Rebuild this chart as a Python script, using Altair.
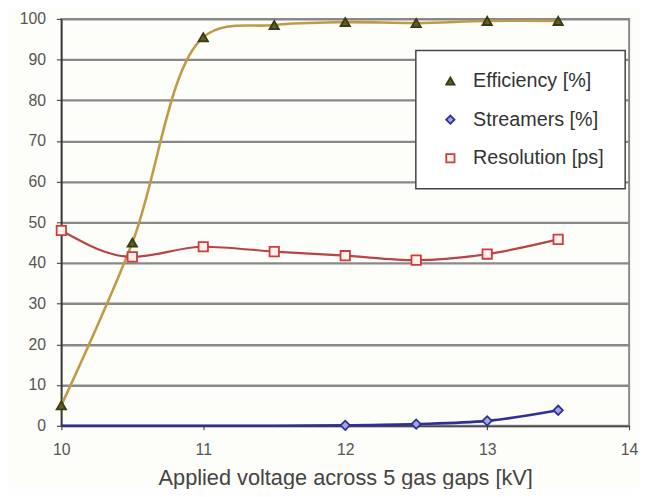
import altair as alt
import pandas as pd

voltage = [10, 10.5, 11, 11.5, 12, 12.5, 13, 13.5]
efficiency = [5, 45, 95.5, 98.5, 99.2, 99, 99.5, 99.5]
streamers = [0, 0, 0, 0, 0.1, 0.4, 1.2, 3.8]
resolution = [48, 41.5, 44, 42.8, 41.8, 40.7, 42.2, 45.8]
series_names = ["Efficiency [%]", "Streamers [%]", "Resolution [ps]"]
marker_from = [10, 12, 10]  # first voltage at which markers are drawn

rows = []
for name, vals, start in zip(series_names, [efficiency, streamers, resolution], marker_from):
    for v, y in zip(voltage, vals):
        rows.append({"voltage": v, "value": y, "series": name, "marker": v >= start})
df = pd.DataFrame(rows)

line_colors = ["#C09A48", "#2E3192", "#B84545"]
fill_colors = ["#5E5E28", "#A0A8E0", "#FFF2F0"]
stroke_colors = ["#3A3A14", "#2E3192", "#D03A3A"]
shapes = ["triangle-up", "diamond", "square"]
interps = ["catmull-rom", "monotone", "monotone"]

x_enc = alt.X("voltage:Q", scale=alt.Scale(domain=[10, 14], nice=False, zero=False),
              axis=alt.Axis(values=[10, 11, 12, 13, 14], title="Applied voltage across 5 gas gaps [kV]",
                            grid=False, tickSize=4, labelPadding=12, labelFontSize=16, labelFlush=False,
                            titleFontSize=22, titleFontWeight="normal", titlePadding=10,
                            domainColor="#333", tickColor="#333", labelColor="#555", titleColor="#444"))
y_enc = alt.Y("value:Q", scale=alt.Scale(domain=[0, 100], nice=False),
              axis=alt.Axis(values=list(range(0, 101, 10)), title=None, grid=True,
                            gridColor="#888888", gridWidth=2.4, tickSize=5, labelPadding=11,
                            labelFontSize=16, domainColor="#333", domainWidth=1.5,
                            tickColor="#333", labelColor="#555"))

base = alt.Chart(df)
lines = []
for name, col, w, ip in zip(series_names, line_colors, [2.6, 2.6, 2.2], interps):
    lines.append(
        base.transform_filter(alt.datum.series == name)
        .mark_line(interpolate=ip, strokeWidth=w, color=col)
        .encode(x=x_enc, y=y_enc)
    )

points = base.transform_filter(alt.datum.marker == True).mark_point(
    filled=False, size=90, strokeWidth=1.8, opacity=1
).encode(
    x=x_enc, y=y_enc,
    shape=alt.Shape("series:N", scale=alt.Scale(domain=series_names, range=shapes), title=None),
    fill=alt.Fill("series:N", scale=alt.Scale(domain=series_names, range=fill_colors), title=None),
    stroke=alt.Stroke("series:N", scale=alt.Scale(domain=series_names, range=stroke_colors), title=None),
)

chart = alt.layer(*lines, points).properties(
    width=575, height=412,
    autosize=alt.AutoSizeParams(type="none"),
    padding={"left": 54, "top": 8, "right": 10, "bottom": 61},
    background="#FDFDF9",
).configure_view(
    stroke="#8a8a8a", strokeWidth=2
).configure_legend(
    orient="none", legendX=359, legendY=32,
    fillColor="#FFFFFF", strokeColor="#444", strokeWidth=1.5,
    padding=21, rowPadding=19, labelFontSize=20, labelColor="#333",
    symbolSize=70, symbolStrokeWidth=1.8, symbolOffset=4, labelOffset=13, labelLimit=300,
    labelFont="Liberation Sans",
).configure_axis(
    labelFont="Liberation Sans", titleFont="Liberation Sans"
)

chart.save("out.html", embed_options={"renderer": "svg", "actions": False})
